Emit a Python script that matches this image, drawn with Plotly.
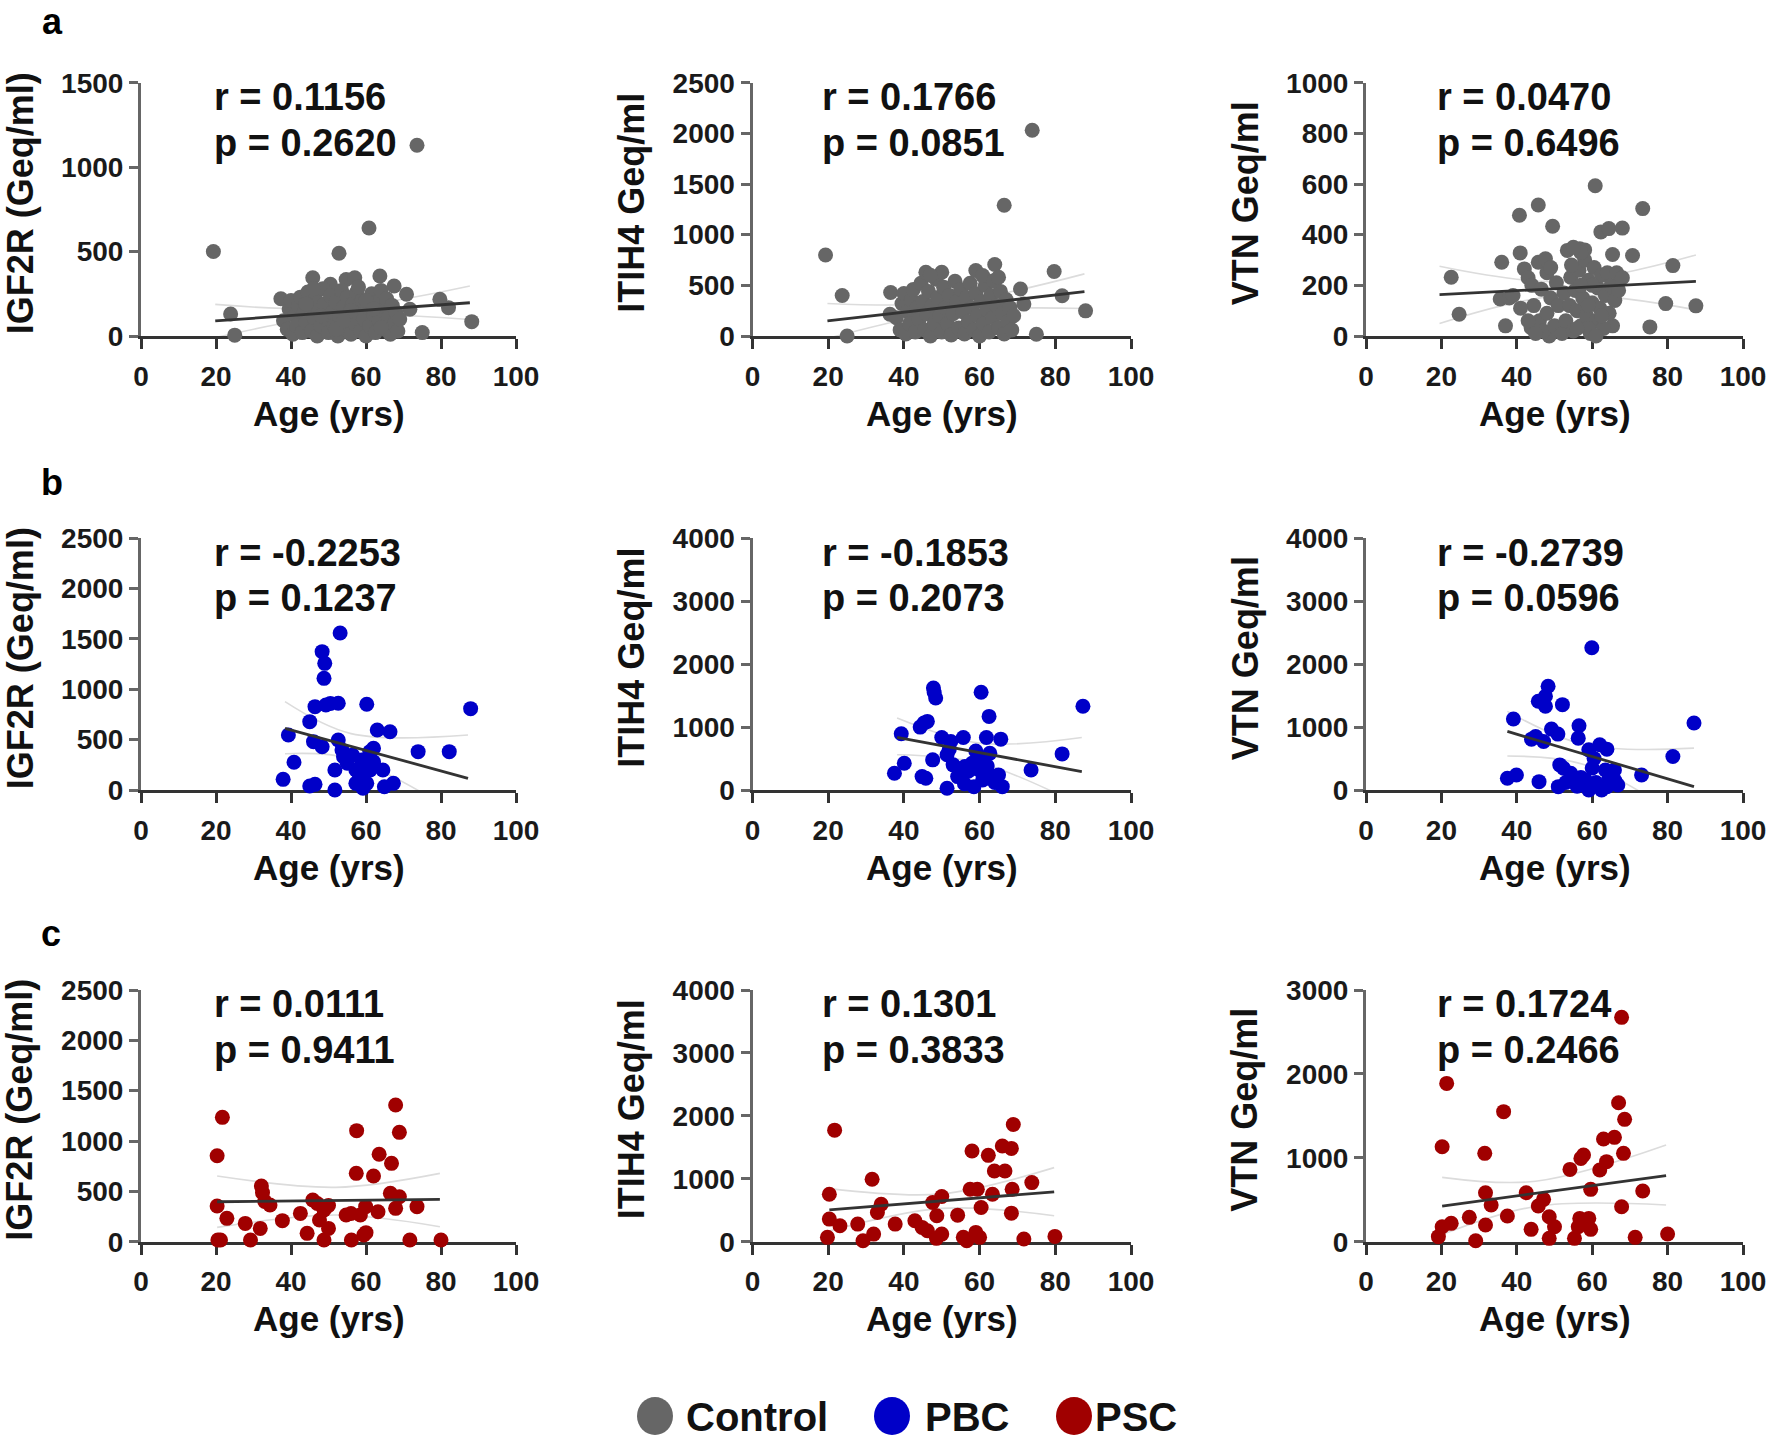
import plotly.graph_objects as go

# ---------------- DATA ----------------
# Control (panel a)
ctrl_igf2r_age = [19.3, 73.6, 60.8, 52.8, 23.9, 25, 37.3, 45.8, 50.5, 54.7, 57, 63.7, 67.5, 70.8, 71.7, 75, 79.7, 82, 88.2,
                  38, 39, 39.5, 40, 40.5, 41, 41.5, 42, 42.5, 43, 43.5, 44, 44.5, 45, 45.5, 46, 46.5, 47, 47.5, 48, 48.5,
                  49, 49.5, 50, 50.5, 51, 51.5, 52, 52.5, 53, 53.5, 54, 54.5, 55, 55.5, 56, 56.5, 57, 57.5, 58, 58.5,
                  59, 59.5, 60, 60.5, 61, 61.5, 62, 62.5, 63, 63.5, 64, 64.5, 65, 65.5, 66, 66.5, 67, 67.5, 68, 68.5,
                  69, 44, 48, 52, 56, 60, 64, 58, 46, 54, 62]
ctrl_igf2r = [500, 1130, 640, 490, 130, 5, 221, 345, 306, 335, 345, 355, 296, 247, 158, 20, 217, 168, 85,
              90, 40, 160, 210, 10, 120, 60, 180, 230, 20, 140, 80, 260, 170, 30, 110, 220, 0, 150, 60, 280,
              190, 100, 20, 240, 140, 60, 200, 0, 110, 270, 170, 40, 230, 120, 10, 190, 70, 260, 140, 30,
              210, 100, 0, 170, 60, 250, 130, 20, 200, 90, 270, 150, 40, 220, 110, 10, 180, 70, 140, 30,
              100, 190, 120, 40, 150, 210, 50, 290, 280, 90, 160]

ctrl_itih4_age = [19.3, 23.7, 25, 73.9, 66.5, 64, 79.7, 81.8, 88, 75, 70.8, 71.7, 36.5, 36.3,
                  38, 39, 39.5, 40, 40.5, 41, 41.5, 42, 42.5, 43, 43.5, 44, 44.5, 45, 45.5, 46, 46.5, 47, 47.5, 48,
                  48.5, 49, 49.5, 50, 50.5, 51, 51.5, 52, 52.5, 53, 53.5, 54, 54.5, 55, 55.5, 56, 56.5, 57, 57.5,
                  58, 58.5, 59, 59.5, 60, 60.5, 61, 61.5, 62, 62.5, 63, 63.5, 64, 64.5, 65, 65.5, 66, 66.5, 67,
                  67.5, 68, 68.5, 69, 45.8, 50, 59, 60.8, 63.7, 47, 65]
ctrl_itih4 = [800, 400, 0, 2030, 1290, 705, 636, 397, 248, 17, 464, 315, 430, 215,
              180, 60, 320, 420, 20, 240, 120, 360, 460, 40, 280, 160, 520, 340, 60, 220, 440, 0, 300, 120,
              560, 380, 200, 40, 480, 280, 120, 400, 10, 220, 540, 340, 80, 460, 240, 20, 380, 140, 520,
              280, 60, 420, 200, 0, 340, 120, 500, 260, 40, 400, 180, 540, 300, 80, 440, 220, 20, 360,
              140, 280, 60, 200, 629, 629, 646, 596, 546, 600, 580]

ctrl_vtn_age = [22.6, 24.7, 36, 35.6, 40.9, 40.7, 45.7, 49.5, 60.8, 62.3, 64.4, 68, 65.4, 70.7, 73.4, 81.4, 79.5,
                87.5, 75.3, 65.4, 54.3, 53.4, 56.7, 37, 43.8, 48.6,
                38, 39, 42, 43, 44, 45.7, 46.5, 47.6, 48, 44.5, 46, 47, 48, 49, 50, 50.5, 51, 52, 52.5, 53, 54,
                55, 55.5, 56, 56.5, 57, 57.5, 58, 58.5, 59, 59.5, 60, 60.5, 61, 61.5, 62, 62.5, 63, 63.5, 64,
                64.5, 65, 66, 66.5, 67, 68, 58, 57, 55, 59, 60, 57, 56, 59, 61, 62.5, 54.5, 41, 43, 45, 49]
ctrl_vtn = [232, 86, 291, 146, 328, 477, 517, 433, 593, 411, 424, 426, 322, 318, 503, 278, 128,
            119, 36, 40, 232, 338, 344, 40, 33, 0,
            150, 160, 265, 230, 200, 291, 185, 305, 250, 120, 60, 20, 90, 150, 40, 210, 120, 10, 170, 60, 120,
            20, 180, 100, 260, 40, 150, 300, 80, 220, 10, 130, 270, 60, 190, 110, 240, 30, 160, 250,
            90, 200, 140, 250, 180, 230, 340, 330, 350, 30, 200, 200, 30, 120, 0, 80, 280, 110, 60, 10, 270]

# PBC (panel b)
pbc_igf2r_age = [53.1, 48.3, 49, 48.8, 46.4, 49.3, 52.6, 60.2, 45, 39.3, 40.8, 37.9, 46, 48.3, 52.6, 62, 63, 66.4,
                 73.9, 82.2, 87.9, 45, 46.4, 51.7, 51.7, 53.6, 56.4, 57.3, 58.3, 59.2, 60.2, 61.1, 64.5, 64.9,
                 67.3, 57.3, 55, 62, 58.8, 50.5, 54, 59.5, 61]
pbc_igf2r = [1560, 1374, 1258, 1109, 828, 844, 861, 851, 679, 546, 275, 106, 480, 430, 497, 414, 596, 579,
             381, 381, 808, 40, 56, 0, 199, 397, 348, 199, 132, 17, 66, 199, 199, 33,
             66, 66, 265, 281, 298, 860, 330, 250, 380]

pbc_itih4_age = [47.8, 48.4, 60.4, 87.3, 62.5, 45.3, 46.2, 44.3, 39.3, 40.1, 37.5, 44.8, 45.8, 50, 52.4, 55.7,
                 61.8, 65.6, 81.8, 73.6, 47.6, 51.4, 62.7, 51.4, 58.5, 66, 56.1, 58, 59.9, 63.7, 54.2, 60.8,
                 48, 52, 57, 60, 61, 64, 53, 59, 56, 62, 65]
pbc_itih4 = [1622, 1463, 1553, 1330, 1170, 1064, 1090, 1000, 894, 426, 266, 213, 186, 835, 771, 835,
             835, 808, 574, 319, 479, 559, 585, 27, 53, 53, 372, 426, 319, 213, 213, 160,
             1550, 650, 300, 500, 250, 120, 400, 620, 100, 380, 240]

pbc_vtn_age = [59.9, 48.3, 47.6, 45.7, 47.6, 52.1, 39.1, 87, 56.5, 49.2, 50.9, 56.3, 43.9, 47.1, 59.1, 62, 63.9,
               81.4, 73.1, 37.5, 39.9, 45.9, 51.4, 52.4, 51, 54.3, 58.2, 59.1, 63.5, 65.9, 63.9, 66.8, 62.5,
               45, 57, 60, 61, 64.5, 55, 56, 53, 60.5, 66]
pbc_vtn = [2261, 1649, 1489, 1410, 1330, 1356, 1128, 1064, 1021, 968, 888, 824, 808, 771, 638, 718, 649,
           532, 239, 186, 239, 133, 399, 346, 53, 266, 160, 0, 319, 319, 53, 80, 0,
           850, 200, 350, 120, 200, 150, 60, 120, 500, 150]

# PSC (panel c)
psc_igf2r_age = [21.7, 20.3, 67.9, 68.9, 57.5, 63.5, 66.8, 57.4, 62, 32.1, 32.4, 20.3, 22.9, 27.8, 31.8, 34.4,
                 37.7, 42.5, 44.3, 45.8, 48.8, 50, 48.8, 54.7, 56.1, 58.5, 59.4, 59.9, 63.2, 66.5, 68.9, 67.9,
                 73.6, 71.7, 80, 20.5, 21.2, 29.2, 47.6, 33, 50, 56, 60, 47]
psc_igf2r = [1235, 854, 1358, 1086, 1103, 868, 778, 679, 652, 553, 487, 354, 232, 182, 132, 364,
             209, 281, 83, 414, 315, 132, 17, 265, 17, 265, 66, 348, 298, 480, 447, 331,
             348, 17, 17, 17, 17, 17, 215, 400, 360, 280, 90, 380]

psc_itih4_age = [21.7, 20.3, 68.9, 58, 62.3, 66, 68.4, 63.9, 66.7, 73.8, 31.6, 68.6, 63.4, 57.5, 59.4, 50,
                 47.6, 34, 33, 60.4, 68.4, 54.2, 48.7, 20.3, 23.1, 27.8, 37.7, 42.9, 44.8, 46.2, 50, 48.6,
                 32, 29.2, 19.8, 55.7, 59, 56.6, 60, 71.7, 79.9]
psc_itih4 = [1773, 755, 1863, 1441, 1372, 1520, 1483, 1124, 1124, 939, 992, 834, 755, 834, 834, 718,
             623, 596, 464, 544, 454, 422, 412, 359, 253, 280, 280, 332, 227, 174, 121, 53,
             121, 16, 69, 69, 148, 16, 69, 42, 84]

psc_vtn_age = [67.8, 21.4, 20.2, 36.5, 31.5, 67, 68.6, 63, 65.9, 68.3, 57.7, 57, 54.1, 63.8, 62, 59.6, 73.4,
               42.5, 31.7, 33.2, 47.1, 45.7, 67.8, 37.5, 27.4, 22.6, 20.2, 19.2, 31.7, 43.8, 48.6, 50, 48.6,
               55.3, 56.7, 59.1, 59.6, 56.3, 29.1, 71.4, 80]
psc_vtn = [2674, 1887, 1132, 1550, 1053, 1657, 1458, 1224, 1244, 1053, 1033, 993, 862, 954, 854, 624, 604,
           584, 584, 437, 505, 425, 417, 306, 290, 219, 179, 60, 199, 147, 298, 179, 40,
           40, 278, 278, 147, 179, 12, 52, 91]

# Regression lines (end points) and 95% CI bands
fit_x = [[19.8, 87.7], [19.8, 87.7], [19.5, 87.5],
         [38.4, 87.2], [38.2, 87.0], [37.5, 87.0],
         [20.3, 79.7], [20.3, 79.7], [20.2, 79.6]]
fit_y = [[89, 197], [149, 437], [163, 216],
         [613, 116], [835, 293], [931, 53],
         [397, 420], [507, 792], [425, 787]]
ci_x = [[19.8, 52, 87.7], [19.8, 52, 87.7], [19.5, 52, 87.5],
        [38.4, 56, 87.2], [38.2, 60, 87.0], [37.5, 58, 87.0],
        [20.3, 52, 79.7], [20.3, 50, 79.7], [20.2, 45, 79.6]]
ci_hi = [[187, 165, 296], [321, 330, 613], [275, 215, 320],
         [877, 560, 546], [1144, 745, 835], [1250, 720, 665],
         [652, 540, 679], [844, 760, 1177], [767, 720, 1152]]
ci_lo = [[-10, 118, 98], [-25, 240, 272], [49, 160, 103],
         [360, 310, -300], [560, 430, -250], [540, 400, -560],
         [142, 265, 149], [170, 530, 412], [85, 420, 437]]

r_text = ["r = 0.1156", "r = 0.1766", "r = 0.0470",
          "r = -0.2253", "r = -0.1853", "r = -0.2739",
          "r = 0.0111", "r = 0.1301", "r = 0.1724"]
p_text = ["p = 0.2620", "p = 0.0851", "p = 0.6496",
          "p = 0.1237", "p = 0.2073", "p = 0.0596",
          "p = 0.9411", "p = 0.3833", "p = 0.2466"]
y_titles = ["IGF2R (Geq/ml)", "ITIH4 Geq/ml", "VTN Geq/ml"]
y_max = [1500, 2500, 1000, 2500, 4000, 4000, 2500, 4000, 3000]
y_step = [500, 500, 200, 500, 1000, 1000, 500, 1000, 1000]
x_ticks = [0, 20, 40, 60, 80, 100]
group_names = ["Control", "PBC", "PSC"]
panel_letters = ["a", "b", "c"]

# ---------------- STYLE / LAYOUT ----------------
W, H = 1770, 1443
FONT = "Liberation Sans"
colors = ["#666666", "#0000C8", "#A00000"]
col_px = [(141, 516), (752.5, 1131), (1366, 1743)]
row_px = [(82.7, 336), (538.3, 790), (990, 1241.7)]
rp_x = [0.19, 0.178, 0.182]
letter_px = [(52, 22), (52, 482.5), (51, 933)]

ages = [ctrl_igf2r_age, ctrl_itih4_age, ctrl_vtn_age,
        pbc_igf2r_age, pbc_itih4_age, pbc_vtn_age,
        psc_igf2r_age, psc_itih4_age, psc_vtn_age]
vals = [ctrl_igf2r, ctrl_itih4, ctrl_vtn,
        pbc_igf2r, pbc_itih4, pbc_vtn,
        psc_igf2r, psc_itih4, psc_vtn]

fig = go.Figure()
annotations = []
layout_axes = {}

for i in range(9):
    row, col = divmod(i, 3)
    n = i + 1
    xa = "x" if n == 1 else f"x{n}"
    ya = "y" if n == 1 else f"y{n}"
    for band in (ci_hi[i], ci_lo[i]):
        fig.add_trace(go.Scatter(x=ci_x[i], y=band, mode="lines",
                                 line=dict(color="#dcdcdc", width=1.6, shape="spline"),
                                 xaxis=xa, yaxis=ya, hoverinfo="skip", showlegend=False))
    fig.add_trace(go.Scatter(x=ages[i], y=vals[i], mode="markers",
                             marker=dict(color=colors[row], size=15, line=dict(width=0)),
                             cliponaxis=False, xaxis=xa, yaxis=ya, showlegend=False))
    fig.add_trace(go.Scatter(x=fit_x[i], y=fit_y[i], mode="lines", line=dict(color="#333333", width=2.8),
                             xaxis=xa, yaxis=ya, hoverinfo="skip", showlegend=False))

    x0, x1 = col_px[col]
    y0, y1 = row_px[row]
    xd = [x0 / W, x1 / W]
    yd = [1 - y1 / H, 1 - y0 / H]
    yt = list(range(0, y_max[i] + 1, y_step[i]))
    layout_axes["xaxis" if n == 1 else f"xaxis{n}"] = dict(
        domain=xd, anchor=ya, range=[0, 100], tickvals=x_ticks, ticks="outside", ticklen=10, tickwidth=3,
        tickcolor="#333333", showline=True, linecolor="#333333", linewidth=3, showgrid=False, zeroline=False,
        ticklabelstandoff=3, automargin=False,
        tickfont=dict(family=FONT, size=28, color="#1a1a1a", weight="bold"), layer="below traces", fixedrange=True)
    layout_axes["yaxis" if n == 1 else f"yaxis{n}"] = dict(
        domain=yd, anchor=xa, range=[0, y_max[i]], tickvals=yt, ticks="outside", ticklen=9, tickwidth=3,
        tickcolor="#666666", showline=True, linecolor="#666666", linewidth=3, showgrid=False, zeroline=False,
        automargin=False,
        tickfont=dict(family=FONT, size=28, color="#1a1a1a", weight="bold"), layer="below traces", fixedrange=True)

    for txt, yy in ((r_text[i], 0.943), (p_text[i], 0.761)):
        annotations.append(dict(text=txt, xref=f"{xa} domain", yref=f"{ya} domain", x=rp_x[col], y=yy,
                                xanchor="left", yanchor="middle", showarrow=False,
                                font=dict(family=FONT, size=38, color="#111111", weight="bold")))
    annotations.append(dict(text=y_titles[col], xref="paper", yref="paper", x=(x0 - 121) / W,
                            y=1 - ((y0 + y1) / 2 - 6) / H, textangle=-90, xanchor="center", yanchor="middle",
                            showarrow=False, font=dict(family=FONT, size=36, color="#111111", weight="bold")))
    annotations.append(dict(text="Age (yrs)", xref="paper", yref="paper", x=(x0 + x1) / 2 / W,
                            y=1 - (y1 + 77) / H, xanchor="center", yanchor="middle", showarrow=False,
                            font=dict(family=FONT, size=35, color="#111111", weight="bold")))

for r in range(3):
    lx, ly = letter_px[r]
    annotations.append(dict(text=panel_letters[r], xref="paper", yref="paper", x=lx / W, y=1 - ly / H,
                            xanchor="center", yanchor="middle", showarrow=False,
                            font=dict(family=FONT, size=36, color="#000000", weight="bold")))

# legend (bottom)
leg_cx = [655, 892, 1074]
leg_tx = [684, 923, 1093]
leg_y = 1416
shapes = []
for k in range(3):
    shapes.append(dict(type="circle", xref="paper", yref="paper", xsizemode="pixel", ysizemode="pixel",
                       xanchor=leg_cx[k] / W, yanchor=1 - leg_y / H, x0=-18, x1=18, y0=-19, y1=19,
                       fillcolor=colors[k], line=dict(width=0)))
    annotations.append(dict(text=group_names[k], xref="paper", yref="paper", x=leg_tx[k] / W, y=1 - (leg_y + 1) / H,
                            xanchor="left", yanchor="middle", showarrow=False,
                            font=dict(family=FONT, size=40, color="#111111", weight="bold")))

fig.update_layout(width=W, height=H, autosize=False,
                  margin=dict(l=0, r=0, t=0, b=0, pad=0, autoexpand=False), paper_bgcolor="white",
                  plot_bgcolor="white", showlegend=False, annotations=annotations, shapes=shapes, **layout_axes)

fig.write_html("out.html", config={"displayModeBar": False, "responsive": False},
               post_script="document.body.style.margin='0';document.body.style.overflow='hidden';")
